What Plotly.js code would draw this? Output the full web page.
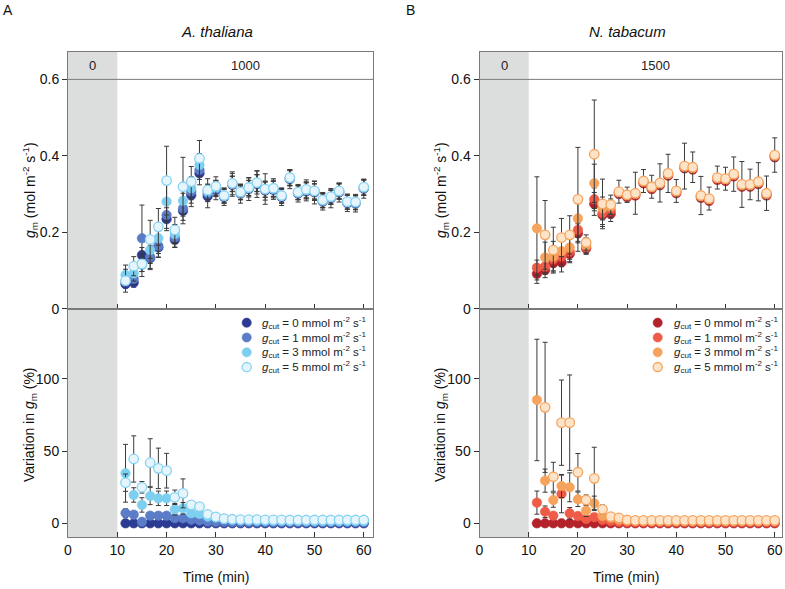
<!DOCTYPE html>
<html>
<head>
<meta charset="utf-8">
<script src="https://cdn.plot.ly/plotly-3.0.1.min.js"></script>
<style>html,body{margin:0;padding:0;background:#fff;}#chart{width:785px;height:589px;}</style>
</head>
<body>
<div id="chart"></div>
<script>
// ---------- data ----------
const time = [11.67,13.33,15,16.67,18.33,20,21.67,23.33,25,26.67,28.33,30,31.67,33.33,35,36.67,38.33,40,41.67,43.33,45,46.67,48.33,50,51.67,53.33,55,56.67,58.33,60];
const gcutLabels = ['0','1','3','5'];
const stripLabelsA = ['0','1000'];
const stripLabelsB = ['0','1500'];

// A. thaliana, gm (mol m-2 s-1)
const atGm0 = [0.064,0.068,0.140,0.132,0.160,0.234,0.180,0.256,0.297,0.354,0.294,0.310,0.292,0.324,0.301,0.313,0.326,0.309,0.311,0.292,0.339,0.301,0.307,0.304,0.280,0.289,0.304,0.276,0.275,0.314];
const atGm1 = [0.070,0.078,0.184,0.135,0.164,0.245,0.186,0.262,0.306,0.363,0.301,0.313,0.294,0.326,0.303,0.315,0.328,0.311,0.313,0.294,0.341,0.303,0.309,0.306,0.282,0.291,0.306,0.278,0.277,0.316];
const atGm3 = [0.088,0.092,0.114,0.153,0.184,0.280,0.195,0.282,0.315,0.376,0.306,0.316,0.295,0.327,0.304,0.316,0.329,0.312,0.314,0.295,0.342,0.304,0.310,0.307,0.283,0.292,0.307,0.279,0.278,0.317];
const atGm5 = [0.073,0.111,0.117,0.181,0.214,0.335,0.206,0.319,0.332,0.393,0.310,0.320,0.296,0.328,0.305,0.317,0.330,0.313,0.315,0.296,0.343,0.305,0.312,0.308,0.284,0.293,0.308,0.280,0.279,0.318];
const atGmErr0 = [0.010,0.012,0.020,0.030,0.025,0.030,0.020,0.025,0.030,0.030,0.030,0.025,0.022,0.030,0.025,0.030,0.035,0.025,0.025,0.022,0.025,0.022,0.025,0.030,0.022,0.025,0.025,0.022,0.022,0.025];
const atGmErr1 = [0.012,0.015,0.087,0.030,0.030,0.035,0.025,0.040,0.030,0.025,0.020,0.020,0.018,0.020,0.018,0.020,0.022,0.020,0.020,0.018,0.020,0.018,0.020,0.020,0.018,0.018,0.020,0.018,0.018,0.020];
const atGmErr3 = [0.026,0.020,0.030,0.035,0.040,0.050,0.025,0.035,0.030,0.030,0.020,0.020,0.018,0.020,0.018,0.020,0.022,0.020,0.020,0.018,0.020,0.018,0.020,0.020,0.018,0.018,0.020,0.018,0.018,0.020];
const atGmErr5 = [0.030,0.025,0.020,0.050,0.048,0.090,0.033,0.077,0.040,0.047,0.030,0.025,0.020,0.030,0.020,0.025,0.030,0.040,0.025,0.020,0.020,0.020,0.025,0.025,0.020,0.020,0.020,0.020,0.020,0.020];

// A. thaliana, variation in gm (%)
const atVar0 = [0,0,0,0,0,0,0,0,0,0,0,0,0,0,0,0,0,0,0,0,0,0,0,0,0,0,0,0,0,0];
const atVar1 = [7.0,6.0,1.0,5.3,5.3,5.3,3.5,3.5,2.5,2.0,1.2,1.0,0.9,0.8,0.8,0.8,0.8,0.8,0.8,0.8,0.8,0.8,0.8,0.8,0.8,0.8,0.8,0.8,0.8,0.8];
const atVar3 = [34.6,19.6,12.7,18.9,17.3,17.3,9.7,10.4,6.9,6.5,4.6,4.0,3.0,2.5,2.2,2.0,1.8,1.8,1.7,1.7,1.6,1.6,1.5,1.5,1.5,1.5,1.5,1.5,1.5,1.5];
const atVar5 = [28.1,44.5,24.9,41.9,38.0,36.4,18.0,20.7,12.7,11.5,6.2,4.4,3.2,2.8,2.6,2.5,2.5,2.4,2.4,2.4,2.3,2.3,2.3,2.3,2.3,2.3,2.3,2.3,2.3,2.3];
const atVarErr1 = [3,2,1,2,2,2,1,1,1,1,0.5,0.5,0.5,0.5,0.5,0.5,0.5,0.5,0.5,0.5,0.5,0.5,0.5,0.5,0.5,0.5,0.5,0.5,0.5,0.5];
const atVarErr3 = [20,5,5,6,5,5,4,4,2,2,1,1,0.5,0.5,0.5,0.5,0.5,0.5,0.5,0.5,0.5,0.5,0.5,0.5,0.5,0.5,0.5,0.5,0.5,0.5];
const atVarErr5 = [6,16,4,16.6,14,12,5,10,1.5,1.5,1,0.8,0.5,0.5,0.5,0.5,0.5,0.5,0.5,0.5,0.5,0.5,0.5,0.5,0.5,0.5,0.5,0.5,0.5,0.5];

// N. tabacum, gm (mol m-2 s-1)
const ntGm0 = [0.091,0.101,0.119,0.121,0.143,0.197,0.157,0.274,0.245,0.248,0.300,0.292,0.296,0.328,0.313,0.323,0.348,0.302,0.367,0.364,0.290,0.282,0.337,0.334,0.346,0.319,0.319,0.326,0.296,0.396];
const ntGm1 = [0.107,0.110,0.129,0.136,0.149,0.206,0.160,0.286,0.250,0.257,0.303,0.295,0.299,0.331,0.316,0.326,0.351,0.305,0.370,0.367,0.293,0.285,0.340,0.337,0.349,0.322,0.322,0.329,0.299,0.399];
const ntGm3 = [0.210,0.134,0.136,0.150,0.160,0.236,0.165,0.328,0.262,0.267,0.305,0.297,0.301,0.333,0.318,0.328,0.353,0.307,0.372,0.369,0.295,0.287,0.342,0.339,0.351,0.324,0.324,0.331,0.301,0.401];
const ntGm5 = [null,0.193,0.153,0.186,0.193,0.286,0.173,0.404,0.274,0.272,0.306,0.298,0.302,0.334,0.319,0.329,0.354,0.308,0.373,0.370,0.296,0.288,0.343,0.340,0.352,0.325,0.325,0.332,0.302,0.402];
const ntGmErr0 = [0.025,0.020,0.020,0.025,0.020,0.025,0.015,0.030,0.030,0.020,0.010,0.010,0.010,0.010,0.010,0.010,0.010,0.010,0.010,0.010,0.010,0.010,0.010,0.010,0.010,0.010,0.010,0.010,0.010,0.010];
const ntGmErr1 = [0.020,0.020,0.020,0.020,0.020,0.020,0.015,0.030,0.030,0.020,0.010,0.010,0.010,0.010,0.010,0.010,0.010,0.010,0.010,0.010,0.010,0.010,0.010,0.010,0.010,0.010,0.010,0.010,0.010,0.010];
const ntGmErr3 = [0.135,0.040,0.040,0.040,0.040,0.060,0.020,0.050,0.030,0.020,0.010,0.010,0.010,0.010,0.010,0.010,0.010,0.010,0.010,0.010,0.010,0.010,0.010,0.010,0.010,0.010,0.010,0.010,0.010,0.010];
const ntGmErr5 = [null,0.090,0.060,0.050,0.050,0.136,0.020,0.142,0.065,0.025,0.030,0.020,0.055,0.030,0.030,0.050,0.050,0.030,0.060,0.040,0.050,0.030,0.030,0.030,0.045,0.060,0.040,0.050,0.045,0.045];

// N. tabacum, variation in gm (%)
const ntVar0 = [0,0,0,0,0,0,0,0,0,0,0,0,0,0,0,0,0,0,0,0,0,0,0,0,0,0,0,0,0,0];
const ntVar1 = [14.3,8.0,5.3,20.3,6.9,5.0,3.0,4.2,2.3,1.5,1.0,0.8,0.8,0.8,0.8,0.8,0.8,0.8,0.8,0.8,0.8,0.8,0.8,0.8,0.8,0.8,0.8,0.8,0.8,0.8];
const ntVar3 = [85.3,29.5,16.1,25.8,24.9,16.6,8.7,13.8,5.0,3.8,2.5,2.0,1.8,1.6,1.5,1.5,1.5,1.5,1.5,1.5,1.5,1.5,1.5,1.5,1.5,1.5,1.5,1.5,1.5,1.5];
const ntVar5 = [null,80.2,32.2,69.6,69.6,35.3,16.1,31.1,9.7,4.6,3.8,2.3,2.0,2.0,2.0,2.0,2.0,2.0,2.0,2.0,2.0,2.0,2.0,2.0,2.0,2.0,2.0,2.0,2.0,2.0];
const ntVarErr1 = [8,4,2,13,4,2,1,2,1,0.5,0.3,0.3,0.3,0.3,0.3,0.3,0.3,0.3,0.3,0.3,0.3,0.3,0.3,0.3,0.3,0.3,0.3,0.3,0.3,0.3];
const ntVarErr3 = [42,8,5,8,10,5,4,5,2,1,0.5,0.5,0.5,0.5,0.5,0.5,0.5,0.5,0.5,0.5,0.5,0.5,0.5,0.5,0.5,0.5,0.5,0.5,0.5,0.5];
const ntVarErr5 = [null,45,10,29.5,33,13,3.5,21.5,3,1.5,1,0.5,0.5,0.5,0.5,0.5,0.5,0.5,0.5,0.5,0.5,0.5,0.5,0.5,0.5,0.5,0.5,0.5,0.5,0.5];

// ---------- styles ----------
const blueStyles = [
  {fill:'#2b3a92', line:'#2b3a92'},
  {fill:'#5b7cc6', line:'#5b7cc6'},
  {fill:'#7dcff0', line:'#7dcff0'},
  {fill:'#e6f5fc', line:'#86d2f2'}
];
const orangeStyles = [
  {fill:'#b3222a', line:'#b3222a'},
  {fill:'#ee5b46', line:'#ee5b46'},
  {fill:'#f6a35d', line:'#f6a35d'},
  {fill:'#fde4c9', line:'#f6a35d'}
];
const FONT = 'Arial, "Liberation Sans", Helvetica, sans-serif';

function legName(v){
  return '<i>g</i><sub>cut</sub> = ' + v + ' mmol m<sup>-2</sup> s<sup>-1</sup>';
}
function mk(y, err, st, xa, ya, idx){
  return {
    type:'scatter', mode:'markers', x: time, y: y,
    xaxis: xa, yaxis: ya,
    name: legName(gcutLabels[idx]),
    showlegend: false,
    marker:{size:9.5, color: st.fill, line:{color: st.line, width: idx===3 ? 1.3 : 0.6}},
    error_y: err ? {type:'data', array: err, visible:true, color:'#3a3a3a', thickness:1, width:2.5} : {visible:false},
    cliponaxis:false,
    hoverinfo:'x+y'
  };
}

const traces = [];
[[atGm0,atGmErr0],[atGm1,atGmErr1],[atGm3,atGmErr3],[atGm5,atGmErr5]].forEach((d,i)=>traces.push(mk(d[0],d[1],blueStyles[i],'x','y',i)));
[[atVar0,null],[atVar1,atVarErr1],[atVar3,atVarErr3],[atVar5,atVarErr5]].forEach((d,i)=>traces.push(mk(d[0],d[1],blueStyles[i],'x2','y2',i)));
[[ntGm0,ntGmErr0],[ntGm1,ntGmErr1],[ntGm3,ntGmErr3],[ntGm5,ntGmErr5]].forEach((d,i)=>traces.push(mk(d[0],d[1],orangeStyles[i],'x3','y3',i)));
[[ntVar0,null],[ntVar1,ntVarErr1],[ntVar3,ntVarErr3],[ntVar5,ntVarErr5]].forEach((d,i)=>traces.push(mk(d[0],d[1],orangeStyles[i],'x4','y4',i)));

// ---------- layout ----------
const W = 785, H = 589;
const px = v => v / W;
const py = v => 1 - v / H;
const LINE = '#7a7a7a';
const dLeft = [px(68), px(373)];
const dRight = [px(479.5), px(782)];
const dTop = [py(308.6), py(52)];
const dBot = [py(537.3), py(308.6)];
const xRangeL = [0, 61.87];
const xRangeR = [0, 61.48];
const yRangeTop = [0, 0.6717];
const yRangeBot = [-9.68, 148.5];

function xAx(domain, range, anchor, labels){
  return {domain, range, anchor, showline:true, mirror:true, linecolor:LINE, linewidth:1,
    showgrid:false, zeroline:false, ticks:'inside', ticklen:5, tickwidth:1, tickcolor:'#333',
    tickvals:[0,10,20,30,40,50,60], showticklabels:labels,
    tickfont:{family:FONT, size:14, color:'#111'}, fixedrange:true};
}
function yAx(domain, range, anchor, vals, text){
  return {domain, range, anchor, showline:true, mirror:true, linecolor:LINE, linewidth:1,
    showgrid:false, zeroline:false, ticks:'outside', ticklen:5, tickwidth:1, tickcolor:'#333',
    tickvals:vals, ticktext:text, tickfont:{family:FONT, size:14, color:'#111'}, fixedrange:true};
}

const gmTitle = '<i>g</i><sub>m</sub> (mol m<sup>-2</sup> s<sup>-1</sup>)';
const varTitle = 'Variation in <i>g</i><sub>m</sub> (%)';

function ann(x, y, text, opts){
  return Object.assign({xref:'paper', yref:'paper', x, y, text, showarrow:false,
    xanchor:'center', yanchor:'middle', font:{family:FONT, size:14, color:'#111'}}, opts||{});
}

const annotations = [
  ann(px(8), py(10), 'A'),
  ann(px(410), py(10), 'B'),
  ann(px(217), py(32), '<i>A. thaliana</i>', {font:{family:FONT, size:15, color:'#111'}}),
  ann(px(627), py(32), '<i>N. tabacum</i>', {font:{family:FONT, size:15, color:'#111'}}),
  ann(px(30), py(190), gmTitle, {textangle:-90}),
  ann(px(30), py(425), varTitle, {textangle:-90}),
  ann(px(441), py(190), gmTitle, {textangle:-90}),
  ann(px(441), py(425), varTitle, {textangle:-90}),
  ann(px(216), py(577), 'Time (min)'),
  ann(px(626), py(577), 'Time (min)'),
  {xref:'x', yref:'y', x:5, y:0.636, text:stripLabelsA[0], showarrow:false, font:{family:FONT, size:13, color:'#222'}},
  {xref:'x', yref:'y', x:(10+xRangeL[1])/2, y:0.636, text:stripLabelsA[1], showarrow:false, font:{family:FONT, size:13, color:'#222'}},
  {xref:'x3', yref:'y3', x:5, y:0.636, text:stripLabelsB[0], showarrow:false, font:{family:FONT, size:13, color:'#222'}},
  {xref:'x3', yref:'y3', x:(10+xRangeR[1])/2, y:0.636, text:stripLabelsB[1], showarrow:false, font:{family:FONT, size:13, color:'#222'}}
];

const shapes = [
  {type:'rect', xref:'x', yref:'paper', x0:0, x1:10, y0:dBot[0], y1:dTop[1], fillcolor:'#dcdddd', line:{width:0}, layer:'below'},
  {type:'rect', xref:'x3', yref:'paper', x0:0, x1:10, y0:dBot[0], y1:dTop[1], fillcolor:'#dcdddd', line:{width:0}, layer:'below'},
  {type:'line', xref:'x domain', yref:'y', x0:0, x1:1, y0:0.6, y1:0.6, line:{color:LINE, width:1}},
  {type:'line', xref:'x3 domain', yref:'y3', x0:0, x1:1, y0:0.6, y1:0.6, line:{color:LINE, width:1}}
];

// legends (drawn as key symbols + text)
function addLegend(styles, markerX, textX){
  styles.forEach((st, i) => {
    const cy = 322.7 + i * 14.8;
    const r = 4.6;
    shapes.push({type:'circle', xref:'paper', yref:'paper',
      x0:px(markerX - r), x1:px(markerX + r), y0:py(cy + r), y1:py(cy - r),
      fillcolor:st.fill, line:{color:st.line, width: i===3 ? 1.3 : 0.6}});
    annotations.push({xref:'paper', yref:'paper', x:px(textX), y:py(cy), xanchor:'left', yanchor:'middle',
      text:legName(gcutLabels[i]), showarrow:false, font:{family:FONT, size:11.5, color:'#222'}});
  });
}
addLegend(blueStyles, 246.7, 260);
addLegend(orangeStyles, 657.7, 672);

const layout = {
  width:W, height:H, margin:{l:0, r:0, t:0, b:0},
  paper_bgcolor:'#ffffff', plot_bgcolor:'rgba(0,0,0,0)',
  font:{family:FONT, size:14, color:'#111'},
  showlegend:false,
  xaxis: xAx(dLeft, xRangeL, 'y', false),
  xaxis2: xAx(dLeft, xRangeL, 'y2', true),
  xaxis3: xAx(dRight, xRangeR, 'y3', false),
  xaxis4: xAx(dRight, xRangeR, 'y4', true),
  yaxis: yAx(dTop, yRangeTop, 'x', [0,0.2,0.4,0.6], ['0','0.2','0.4','0.6']),
  yaxis2: yAx(dBot, yRangeBot, 'x2', [0,50,100], ['0','50','100']),
  yaxis3: yAx(dTop, yRangeTop, 'x3', [0,0.2,0.4,0.6], ['0','0.2','0.4','0.6']),
  yaxis4: yAx(dBot, yRangeBot, 'x4', [0,50,100], ['0','50','100']),
  annotations, shapes
};

Plotly.newPlot('chart', traces, layout, {displayModeBar:false, staticPlot:true});
</script>
</body>
</html>
